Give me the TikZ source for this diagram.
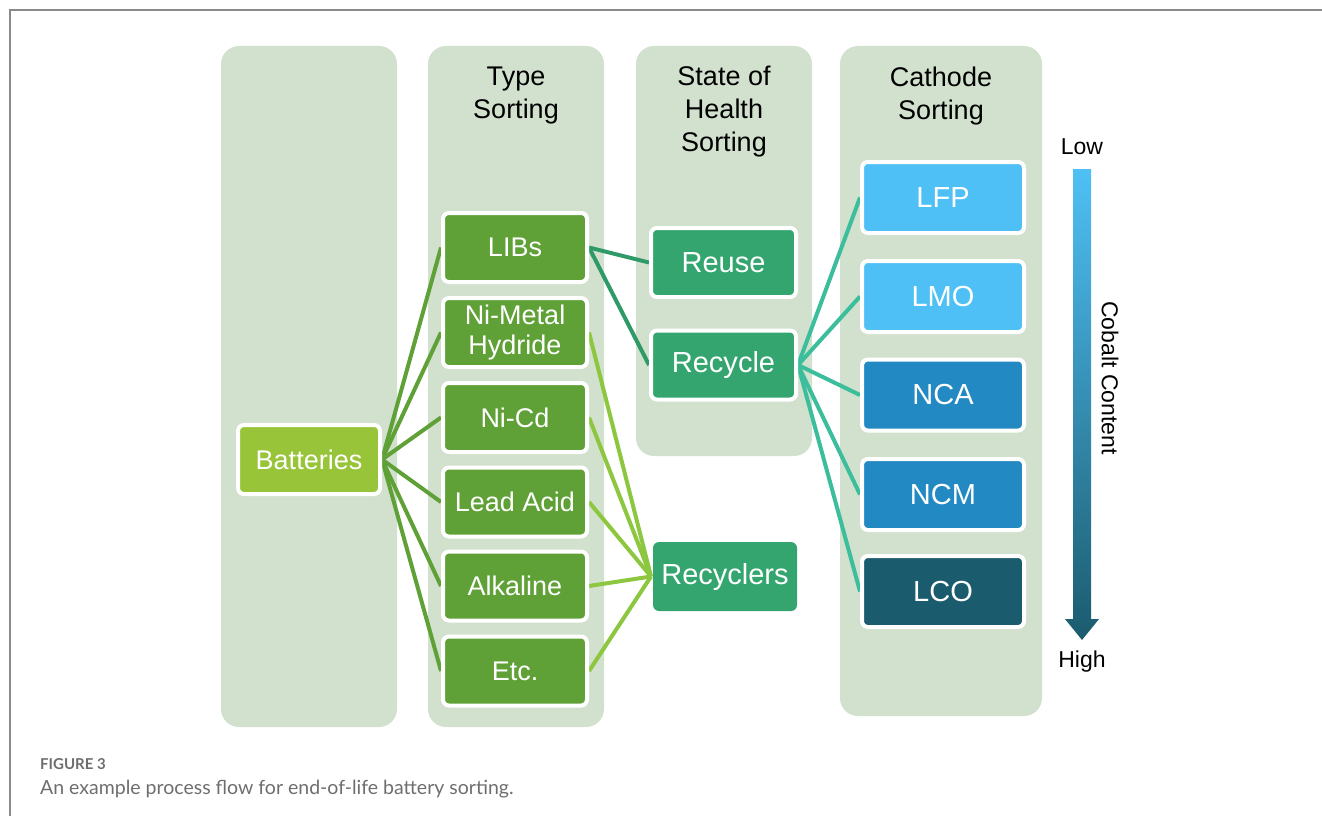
\documentclass[tikz,border=0pt]{standalone}
\usepackage{fontspec}
\setmainfont{Liberation Sans}
\newfontfamily\capfont{Lato}
\usetikzlibrary{positioning}
\definecolor{colbg}{HTML}{D2E1CE}
\definecolor{batfill}{HTML}{98C43A}
\definecolor{typefill}{HTML}{5FA136}
\definecolor{sohfill}{HTML}{34A56F}
\definecolor{lightline}{HTML}{8DC63F}
\definecolor{sohline}{HTML}{2E9A68}
\definecolor{cathline}{HTML}{3CBE9C}
\definecolor{lightblue}{HTML}{4FC0F5}
\definecolor{midblue}{HTML}{2389C2}
\definecolor{darkblue}{HTML}{1B5B6E}
\definecolor{arrowmid}{HTML}{13A3E8}
\definecolor{framegray}{HTML}{8A8A8A}
\definecolor{capgray}{HTML}{6E6E6E}
\pgfdeclarelayer{colbglayer}
\pgfdeclarelayer{linelayer}
\pgfsetlayers{colbglayer,linelayer,main}
\tikzset{
  col/.style={fill=colbg, rounded corners=18pt, inner sep=0, draw=none},
  box/.style={rounded corners=6pt, draw=white, line width=4pt, text=white,
    align=center, inner sep=0, font=\fontsize{27}{30}\selectfont},
  bigbox/.style={box, font=\fontsize{29}{32}\selectfont},
  typebox/.style={box, fill=typefill, minimum width=144pt, minimum height=69pt},
  sohbox/.style={bigbox, fill=sohfill, minimum width=145pt, minimum height=69pt},
  cathbox/.style={bigbox, minimum width=162pt, minimum height=71pt},
  header/.style={align=center, font=\fontsize{27}{33}\selectfont, text=black},
  conn/.style={line width=4pt},
  scalelabel/.style={font=\fontsize{23}{27}\selectfont, text=black}
}
\begin{document}
\begin{tikzpicture}[x=1pt,y=-1pt]
\useasboundingbox (0,0) rectangle (1322,816);
% frame
\draw[framegray, line width=2pt] (10,816) -- (10,10) -- (1322,10);
% columns
\begin{pgfonlayer}{colbglayer}
\node[col, minimum width=176pt, minimum height=681pt] (col1) at (309,386.5) {};
\node[col, minimum width=176pt, minimum height=681pt] (col2) at (516,386.5) {};
\node[col, minimum width=176pt, minimum height=410pt] (col3) at (724,251) {};
\node[col, minimum width=202pt, minimum height=670pt] (col4) at (941,381) {};
\end{pgfonlayer}
% headers
\node[header] (h2) at (516,96) {Type\\Sorting};
\node[header] (h3) at (724,112) {State of\\Health\\Sorting};
\node[header] (h4) at (941,96) {Cathode\\Sorting};
% boxes
\node[box, fill=batfill, minimum width=142pt, minimum height=69pt] (bat) at (309,459.5) {Batteries};
\node[typebox] (libs) at (515,247.5) {LIBs};
\node[typebox] (nimh) at (515,332.5) {Ni-Metal\\Hydride};
\node[typebox] (nicd) at (515,417.5) {Ni-Cd};
\node[typebox] (lead) at (515,502) {Lead Acid};
\node[typebox] (alk) at (515,586) {Alkaline};
\node[typebox] (etc) at (515,671) {Etc.};
\node[sohbox] (reuse) at (723.5,262.5) {Reuse};
\node[sohbox] (recycle) at (723.5,365) {Recycle};
\node[bigbox, draw=none, fill=sohfill, minimum width=144pt, minimum height=69pt] (recyclers) at (725,576.5) {Recyclers};
\node[cathbox, fill=lightblue] (lfp) at (943,197.5) {LFP};
\node[cathbox, fill=lightblue] (lmo) at (943,296.5) {LMO};
\node[cathbox, fill=midblue] (nca) at (943,395) {NCA};
\node[cathbox, fill=midblue] (ncm) at (943,494.5) {NCM};
\node[cathbox, fill=darkblue] (lco) at (943,591.5) {LCO};
% connectors
\begin{pgfonlayer}{linelayer}
\foreach \t in {libs,nimh,nicd,lead,alk,etc}
  \draw[conn, typefill] (bat.east) -- (\t.west);
\foreach \t in {nimh,nicd,lead,alk,etc}
  \draw[conn, lightline] (\t.east) -- (recyclers.west);
\draw[conn, sohline] (libs.east) -- (reuse.west);
\draw[conn, sohline] (libs.east) -- (recycle.west);
\foreach \t in {lfp,lmo,nca,ncm,lco}
  \draw[conn, cathline] (recycle.east) -- (\t.west);
\end{pgfonlayer}
% cobalt scale arrow
\shade[top color=lightblue, middle color=arrowmid, bottom color=darkblue]
  (1073,169) -- (1091,169) -- (1091,619) -- (1099,619) -- (1082,640)
  -- (1065,619) -- (1073,619) -- cycle;
\node[scalelabel] (low) at (1082,147) {Low};
\node[scalelabel] (high) at (1082,662) {High};
\node[scalelabel, rotate=-90] (cobalt) at (1110,378) {Cobalt Content};
% caption
\node[anchor=base west, inner sep=0, text=capgray, font=\capfont\bfseries\fontsize{15}{18}\selectfont] (fig) at (40,769) {FIGURE 3};
\node[anchor=base west, inner sep=0, text=capgray, font=\capfont\fontsize{19.5}{23}\selectfont] (cap) at (40,794) {An example process flow for end-of-life battery sorting.};
\end{tikzpicture}
\end{document}
